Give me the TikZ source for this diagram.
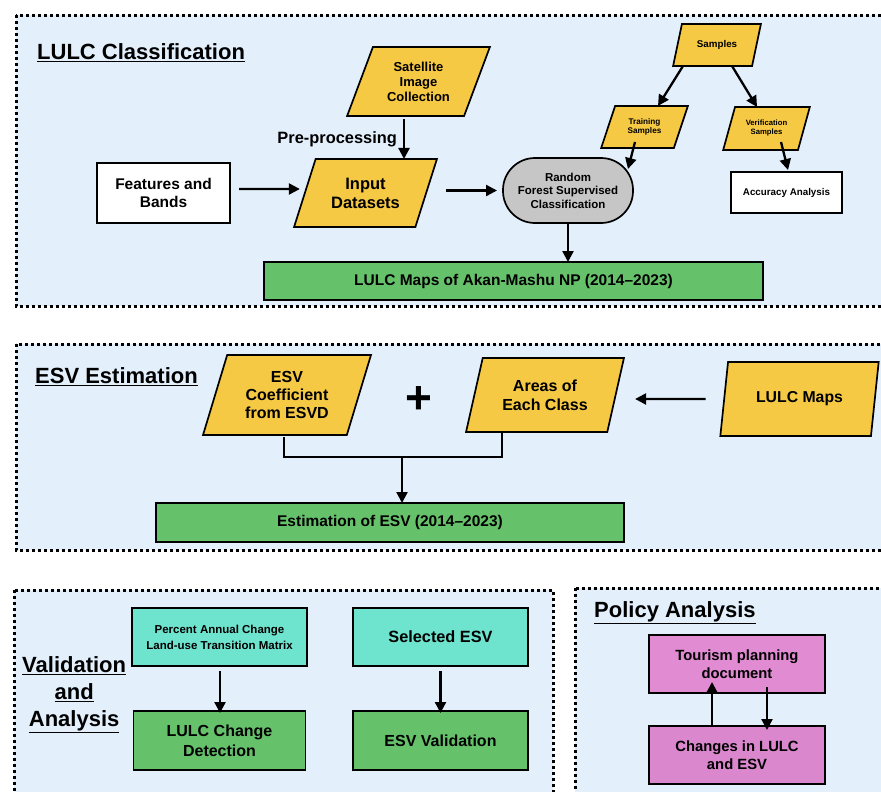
\documentclass[tikz,border=0pt]{standalone}
\usepackage{fontspec}
\setmainfont{Liberation Sans}
\usetikzlibrary{shapes.geometric,arrows.meta,calc}
\definecolor{bgblue}{HTML}{E3F0FC}
\definecolor{yel}{HTML}{F6C945}
\definecolor{grn}{HTML}{66C26A}
\definecolor{gry}{HTML}{C6C6C6}
\definecolor{tealb}{HTML}{6EE4CF}
\definecolor{pinka}{HTML}{E08BD2}
\definecolor{pinkb}{HTML}{DA87CD}
\tikzset{
  frame/.style={draw=black, fill=bgblue, line width=3pt, dash pattern=on 3pt off 3pt},
  fsz/.style 2 args={font=\bfseries\fontsize{#1}{#2}\selectfont},
  box/.style={draw=black, line width=1.7pt, align=center, inner sep=2pt, outer sep=0pt},
  rbox/.style={box, rectangle},
  para/.style={box, fill=yel, trapezium, trapezium left angle=#1, trapezium right angle={180-#1}, trapezium stretches=true},
  arr/.style={line width=2.3pt, -{Triangle[length=11pt,width=11pt]}},
  conn/.style={line width=2.3pt},
  title/.style={fsz={22}{27}, anchor=west, inner sep=0pt, align=center}
}
\begin{document}
\begin{tikzpicture}[x=1pt,y=-1pt]
\useasboundingbox (0,0) rectangle (881,792);
\clip (0,0) rectangle (881,792);
% frames
\draw[frame] (16,15.5) rectangle (905,306);
\draw[frame] (16,344) rectangle (905,550);
\draw[frame] (14,590) rectangle (553,815);
\draw[frame] (575,588) rectangle (905,815);

% ---- LULC Classification
\node[title] (ltitle) at (37,53) {\underline{LULC Classification}};
\node[para=66.5, minimum width=143pt, minimum height=69pt, fsz={13}{15}] (sat) at (418.5,81.5) {Satellite\\Image\\Collection};
\node[para=65.5, minimum width=143pt, minimum height=68pt, fsz={16.5}{19}] (inp) at (365.5,193) {Input\\Datasets};
\node[rbox, fill=white, minimum width=133pt, minimum height=60pt, fsz={15.5}{18}] (feat) at (163.5,193) {Features and\\Bands};
\node[box, rectangle, rounded corners=32pt, fill=gry, minimum width=130pt, minimum height=65pt, fsz={11.5}{13.5}] (rf) at (568,190.5) {Random\\Forest Supervised\\Classification};
\node[para=67, minimum width=88pt, minimum height=42pt, fsz={9.8}{12}] (samp) at (717,45) {Samples};
\node[para=67, minimum width=87pt, minimum height=42pt, fsz={8.2}{9.5}] (train) at (644.5,127) {Training\\Samples};
\node[para=67, minimum width=87pt, minimum height=43pt, fsz={7.7}{9}] (verif) at (766.5,128.5) {Verification\\Samples};
\node[rbox, fill=white, minimum width=111pt, minimum height=41pt, fsz={9.8}{12}] (acc) at (786.5,192.5) {Accuracy Analysis};
\node[rbox, fill=grn, minimum width=499pt, minimum height=38pt, fsz={15.5}{18}] (lmap1) at (513.5,281) {LULC Maps of Akan-Mashu NP (2014--2023)};

\draw[arr] ($(sat.south)+(-14.5,3)$) -- ($(sat.south |- inp.north)+(-14.5,0)$)
  node[midway, left, inner sep=6pt, fsz={16.4}{19}] (pre) {Pre-processing};
\draw[arr] ($(feat.east)+(9,-4)$) -- ($(inp.west)+(-5,-4)$);
\draw[arr] ($(inp.east |- rf.west)+(20,0)$) -- ($(rf.west)+(-6,0)$);
\draw[arr] (rf.south) -- (rf.south |- lmap1.north);
\draw[arr] ($(samp.south)+(-34,0)$) -- ($(train.north)+(13.5,0)$);
\draw[arr] ($(samp.south)+(15,0)$) -- ($(verif.north)+(-9.5,0)$);
\draw[arr] ($(train.center)+(-9.5,15)$) -- ($(rf.center)+(60,-21.5)$);
\draw[arr] ($(verif.center)+(14.5,13.5)$) -- ($(acc.north)+(1.5,-2)$);

% ---- ESV Estimation
\node[title] (etitle) at (35,377) {\underline{ESV Estimation}};
\node[para=71, minimum width=168pt, minimum height=80pt, fsz={16}{18}] (esvc) at (287,395) {ESV\\Coefficient\\from ESVD};
\node[fsz={46}{46}, inner sep=0pt] (plus) at (419,400) {+};
\node[para=71, minimum width=158pt, minimum height=74pt, fsz={16}{19}] (areas) at (545,395) {Areas of\\Each Class};
\node[para=75, minimum width=159pt, minimum height=74pt, fsz={15.8}{19}] (lmap2) at (799.5,399) {LULC Maps};
\node[rbox, fill=grn, minimum width=468pt, minimum height=39pt, fsz={15.5}{18}] (est) at (390,522.5) {Estimation of ESV (2014--2023)};

\coordinate (jn) at (402,457);
\draw[conn] ($(esvc.south)+(-3,2)$) |- (jn) -| ($(areas.south)+(-43,0)$);
\draw[arr] (jn) -- (jn |- est.north);
\draw[arr] ($(lmap2.west)+(-18.5,0)$) -- ($(areas.east)+(19.5,4)$);

% ---- Validation and Analysis
\node[title] (vtitle) at (22,695) {\underline{Validation}\\\underline{and}\\\underline{Analysis}};
\node[rbox, fill=tealb, minimum width=175pt, minimum height=58pt, fsz={11.5}{16}] (pac) at (219.5,637) {Percent Annual Change\\Land-use Transition Matrix};
\node[rbox, fill=tealb, minimum width=175pt, minimum height=58pt, fsz={16.3}{19}] (sel) at (440.5,637) {Selected ESV};
\node[rbox, fill=grn, minimum width=172pt, minimum height=59pt, fsz={16}{20}] (lcd) at (219.5,740.5) {LULC Change\\Detection};
\node[rbox, fill=grn, minimum width=175pt, minimum height=59pt, fsz={16}{19}] (esvv) at (440.5,740.5) {ESV Validation};
\draw[arr] ($(pac.south)+(0.5,5)$) -- ($(lcd.north)+(0.5,2)$);
\draw[arr] ($(sel.south)+(0,5)$) -- ($(esvv.north)+(0,2)$);

% ---- Policy Analysis
\node[title] (ptitle) at (594,613) {\underline{Policy Analysis}};
\node[rbox, fill=pinka, minimum width=176pt, minimum height=58pt, fsz={14.8}{18}] (tour) at (737,664) {Tourism planning\\document};
\node[rbox, fill=pinkb, minimum width=176pt, minimum height=58pt, fsz={14.8}{18}] (chg) at (737,755) {Changes in LULC\\and ESV};
\draw[arr] ($(chg.north)+(-25,0)$) -- ($(tour.south)+(-25,-11)$);
\draw[arr] ($(tour.south)+(30,-6)$) -- ($(chg.north)+(30,4)$);
\end{tikzpicture}
\end{document}
